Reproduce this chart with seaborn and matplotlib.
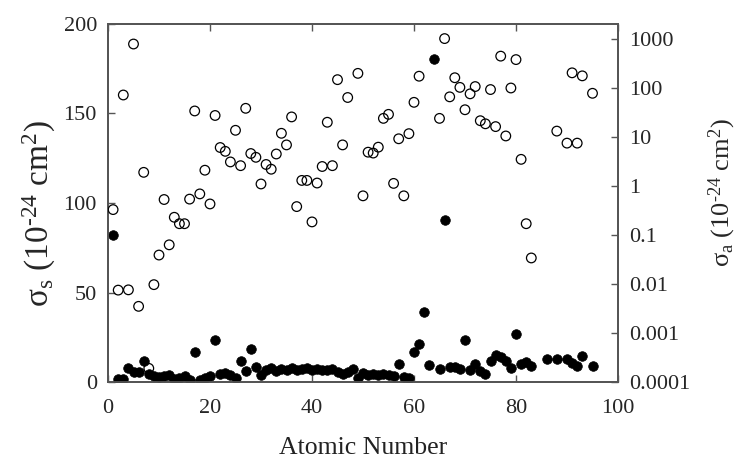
import matplotlib
matplotlib.use("Agg")
import matplotlib.pyplot as plt
import matplotlib.ticker as mticker
import seaborn as sns
import pandas as pd

# Scattering cross-section sigma_s (left, linear axis) - filled circles
z_scatter = [1, 2, 3, 4, 5, 6, 7, 8, 9, 10, 11, 12, 13, 14, 15, 16, 17, 18, 19, 20,
             21, 22, 23, 24, 25, 26, 27, 28, 29, 30, 31, 32, 33, 34, 35, 36, 37, 38, 39, 40,
             41, 42, 43, 44, 45, 46, 47, 48, 49, 50, 51, 52, 53, 54, 55, 56, 57, 58, 59, 60,
             61, 62, 63, 64, 65, 66, 67, 68, 69, 70, 71, 72, 73, 74, 75, 76, 77, 78, 79, 80,
             81, 82, 83, 86, 88, 90, 91, 92, 93, 95]
sigma_s = [82.0, 1.4, 1.4, 7.6, 5.5, 5.6, 11.6, 4.5, 3.6, 2.6, 3.1, 3.8, 1.6, 2.4, 3.6, 1.1, 16.9, 0.9, 2.0, 3.1,
           23.5, 4.6, 5.1, 3.7, 2.1, 11.8, 5.9, 18.4, 8.3, 4.0, 6.7, 7.8, 6.2, 7.0, 6.5, 7.6, 6.7, 7.2, 7.9, 6.7,
           7.2, 6.5, 6.5, 7.0, 5.5, 4.7, 5.5, 7.0, 2.2, 4.8, 3.9, 4.2, 3.9, 4.6, 3.9, 3.4, 10.0, 2.9, 2.3, 16.8,
           21.5, 38.9, 9.4, 180.2, 7.0, 90.3, 8.5, 8.6, 7.0, 23.5, 6.9, 10.3, 6.4, 4.2, 11.8, 14.9, 14.1, 12.0, 7.7, 27.0,
           10.1, 11.2, 9.2, 12.6, 12.8, 13.0, 10.5, 8.8, 14.6, 9.0]

# Absorption cross-section sigma_a (right, log axis) - open circles
z_absorb = [1, 2, 3, 4, 5, 6, 7, 8, 9, 10, 11, 12, 13, 14, 15, 16, 17, 18, 19, 20,
            21, 22, 23, 24, 25, 26, 27, 28, 29, 30, 31, 32, 33, 34, 35, 36, 37, 38, 39, 40,
            41, 42, 43, 44, 45, 46, 47, 49, 50, 51, 52, 53, 54, 55, 56, 57, 58, 59, 60,
            61, 65, 66, 67, 68, 69, 70, 71, 72, 73, 74, 75, 76, 77, 78, 79, 80,
            81, 82, 83, 88, 90, 91, 92, 93, 95]
sigma_a = [0.33, 0.0075, 72, 0.0076, 790, 0.0035, 1.9, 0.00019, 0.0097, 0.039, 0.53, 0.063, 0.23, 0.17, 0.17, 0.54, 34, 0.69, 2.1, 0.43,
           27.5, 6.1, 5.1, 3.1, 13.7, 2.6, 38.5, 4.6, 3.85, 1.1, 2.75, 2.2, 4.5, 11.9, 6.9, 25.7, 0.38, 1.3, 1.3, 0.185,
           1.15, 2.5, 20, 2.6, 148, 6.9, 64, 199, 0.63, 4.9, 4.7, 6.2, 24, 29, 1.13, 9.2, 0.63, 11.7, 51,
           174, 24, 1020, 66, 162, 103, 36, 76, 107, 21.5, 18.6, 93, 16.3, 447, 10.5, 100, 380,
           3.5, 0.17, 0.034, 13.2, 7.5, 204, 7.5, 177, 78]

x_ticks = [0, 20, 40, 60, 80, 100]
left_ticks = [0, 50, 100, 150, 200]
right_ticks = [0.0001, 0.001, 0.01, 0.1, 1, 10, 100, 1000]
right_labels = ["0.0001", "0.001", "0.01", "0.1", "1", "10", "100", "1000"]

df_s = pd.DataFrame({"Z": z_scatter, "sigma_s": sigma_s})
df_a = pd.DataFrame({"Z": z_absorb, "sigma_a": sigma_a})

sns.set_style("ticks")
plt.rcParams["font.family"] = ["Liberation Serif", "DejaVu Serif"]
plt.rcParams["mathtext.fontset"] = "custom"
plt.rcParams["mathtext.rm"] = "Liberation Serif"
plt.rcParams["mathtext.it"] = "Liberation Serif:italic"

spine_col = "#555555"
fig = plt.figure(figsize=(7.39, 4.59), dpi=100)
ax = fig.add_axes([108 / 739, 1 - 382 / 459, (618 - 108) / 739, (382 - 24) / 459])
ax2 = ax.twinx()

sns.scatterplot(data=df_s, x="Z", y="sigma_s", ax=ax, color="black", s=48,
                edgecolor="black", linewidth=0.5, zorder=3)
sns.scatterplot(data=df_a, x="Z", y="sigma_a", ax=ax2, marker="o", s=48,
                facecolors="none", edgecolor="black", linewidth=0.9, zorder=3)

ax.set_xlim(0, 100)
ax.set_ylim(0, 200)
ax2.set_yscale("log")
ax2.set_ylim(1e-4, 2024)

ax.set_xticks(x_ticks)
ax.set_yticks(left_ticks)
ax2.yaxis.set_major_locator(mticker.FixedLocator(right_ticks))
ax2.yaxis.set_major_formatter(mticker.FixedFormatter(right_labels))
ax2.yaxis.set_minor_locator(mticker.NullLocator())

ax.tick_params(axis="x", direction="in", top=True, bottom=True, length=5, width=1,
               color=spine_col, labelsize=16, pad=12)
ax.tick_params(axis="y", direction="in", left=True, right=False, length=5, width=1,
               color=spine_col, labelsize=16, pad=8)
ax2.tick_params(axis="y", direction="in", right=True, length=5, width=1,
                color=spine_col, labelsize=16, pad=8)

for a in (ax, ax2):
    for sp in a.spines.values():
        sp.set_visible(True)
        sp.set_color(spine_col)
        sp.set_linewidth(1.3)

ax.set_xlabel("Atomic Number", fontsize=18.5, color="#222222", labelpad=14)
ax.set_ylabel("σ$_{\\mathrm{s}}$ (10$^{\\text{-24}}$ cm$^{2}$)", fontsize=24, labelpad=4)
ax2.set_ylabel("σ$_{\\mathrm{a}}$ (10$^{\\text{-24}}$ cm$^{2}$)", fontsize=19, labelpad=12)
ax.yaxis.label.set_y(0.47)
ax2.yaxis.label.set_y(0.53)

fig.savefig("out.png", dpi=100)
